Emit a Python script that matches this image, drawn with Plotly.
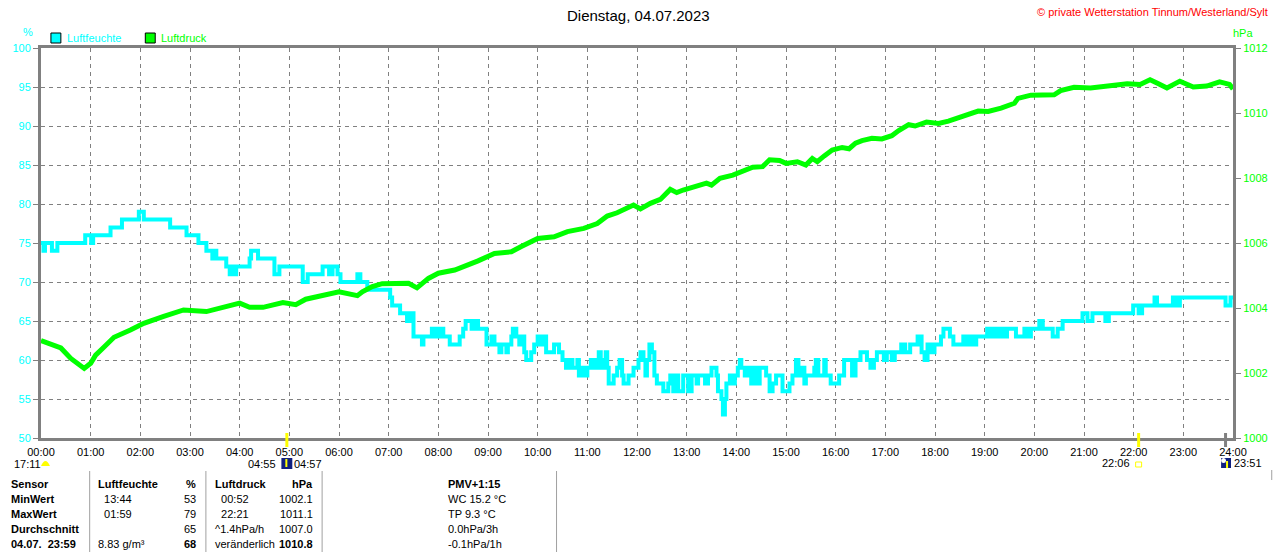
import plotly.graph_objects as go

# --- data (hours since midnight) ---
hum_t = [0.00, 0.05, 0.08, 0.22, 0.33, 0.89, 1.01, 1.05, 1.40, 1.63, 1.97, 2.07, 2.60, 2.93,
         3.17, 3.33, 3.45, 3.50, 3.53, 3.73, 3.80, 3.85, 3.88, 3.93, 4.20, 4.23, 4.37, 4.70,
         4.80, 5.27, 5.37, 5.67, 5.80, 5.87, 5.97, 6.03, 6.37, 6.43, 6.57, 7.03, 7.07, 7.23,
         7.37, 7.43, 7.50, 7.67, 7.70, 7.87, 7.90, 7.97, 8.00, 8.07, 8.10, 8.23, 8.43, 8.50,
         8.55, 8.67, 8.73, 8.80, 8.97, 9.07, 9.13, 9.23, 9.27, 9.37, 9.40, 9.47, 9.50, 9.57,
         9.63, 9.70, 9.73, 9.77, 9.87, 9.93, 10.00, 10.07, 10.13, 10.17, 10.33, 10.43, 10.50,
         10.57, 10.63, 10.70, 10.80, 10.83, 10.90, 10.93, 11.00, 11.07, 11.13, 11.20, 11.23,
         11.27, 11.33, 11.37, 11.40, 11.43, 11.53, 11.60, 11.65, 11.70, 11.73, 11.83, 11.93,
         12.03, 12.07, 12.13, 12.17, 12.20, 12.25, 12.30, 12.35, 12.40, 12.53, 12.63, 12.67,
         12.73, 12.80, 12.83, 12.93, 13.03, 13.10, 13.20, 13.23, 13.37, 13.43, 13.50, 13.60,
         13.63, 13.70, 13.73, 13.77, 13.80, 13.87, 13.90, 13.97, 14.03, 14.07, 14.10, 14.17,
         14.23, 14.30, 14.37, 14.43, 14.47, 14.60, 14.67, 14.73, 14.80, 14.93, 15.07, 15.13,
         15.20, 15.25, 15.30, 15.37, 15.40, 15.57, 15.60, 15.65, 15.77, 15.80, 15.90, 16.07,
         16.17, 16.33, 16.40, 16.50, 16.63, 16.70, 16.77, 16.83, 16.97, 17.03, 17.13, 17.19,
         17.32, 17.40, 17.50, 17.65, 17.73, 17.79, 17.85, 17.92, 17.99, 18.12, 18.17, 18.30,
         18.37, 18.57, 18.63, 18.70, 18.77, 18.83, 19.05, 19.12, 19.19, 19.25, 19.32, 19.39,
         19.45, 19.63, 19.80, 19.85, 19.93, 20.10, 20.17, 20.37, 20.47, 20.57, 20.97, 21.07,
         21.17, 21.43, 21.50, 21.99, 22.10, 22.17, 22.42, 22.47, 22.79, 22.87, 22.93, 23.20,
         23.85, 23.95, 24.00]
hum_v = [75, 74, 75, 74, 75, 76, 75, 76, 77, 78, 79, 78, 77, 76,
         75, 74, 73, 74, 73, 72, 71, 72, 71, 72, 73, 74, 73, 71,
         72, 70, 71, 72, 71, 72, 71, 70, 71, 70, 69, 68, 67, 66,
         65, 66, 63, 62, 63, 64, 63, 64, 63, 64, 63, 62, 63, 64,
         65, 64, 65, 64, 62, 63, 62, 61, 62, 61, 62, 63, 64, 63,
         62, 63, 61, 60, 61, 62, 63, 62, 63, 61, 62, 61, 60,
         59, 60, 59, 60, 58, 59, 58, 59, 60, 59, 60, 61,
         59, 60, 61, 59, 57, 58, 59, 60, 58, 57, 58, 59,
         60, 61, 60, 58, 60, 62, 61, 58, 57, 56, 57, 58,
         56, 58, 56, 58, 56, 58, 57, 58, 57, 58, 59, 58,
         56, 55, 53, 55, 57, 58, 57, 58, 59, 60, 59, 58,
         59, 57, 59, 57, 59, 58, 56, 57, 58, 56, 57, 58,
         60, 58, 59, 57, 58, 59, 60, 58, 60, 58, 57, 58,
         60, 58, 60, 61, 60, 59, 60, 61, 60, 61, 60, 61,
         62, 61, 62, 63, 61, 60, 62, 61, 62, 63, 64, 63,
         62, 63, 62, 63, 62, 63, 64, 63, 64, 63, 64, 63,
         64, 63, 64, 63, 64, 65, 64, 63, 64, 65, 66, 65,
         66, 65, 66, 67, 66, 67, 68, 67, 68, 67, 68, 68,
         67, 68, 68]

pres_t = [0.00, 0.20, 0.40, 0.60, 0.87, 1.00, 1.10, 1.27, 1.47, 1.80, 2.07, 2.47, 2.87, 3.33,
          3.80, 4.00, 4.20, 4.47, 4.87, 5.13, 5.33, 5.60, 6.00, 6.37, 6.47, 6.67, 6.87, 7.40,
          7.57, 7.80, 8.00, 8.33, 8.60, 8.80, 9.13, 9.47, 9.67, 10.00, 10.33, 10.60, 10.93,
          11.20, 11.40, 11.60, 11.93, 12.07, 12.27, 12.47, 12.67, 12.80, 12.93, 13.20, 13.40,
          13.50, 13.67, 13.93, 14.13, 14.33, 14.53, 14.67, 14.87, 15.00, 15.23, 15.40, 15.53,
          15.63, 15.77, 15.93, 16.13, 16.27, 16.40, 16.53, 16.73, 16.93, 17.13, 17.27, 17.47,
          17.60, 17.83, 18.07, 18.27, 18.47, 18.67, 18.87, 19.07, 19.33, 19.60, 19.67, 19.93,
          20.13, 20.40, 20.53, 20.80, 21.13, 21.47, 21.87, 22.13, 22.33, 22.50, 22.67, 22.93,
          23.20, 23.47, 23.73, 23.93, 24.00]
pres_v = [1003.0, 1002.9, 1002.77, 1002.45, 1002.14, 1002.3, 1002.55, 1002.8, 1003.1, 1003.32,
          1003.53, 1003.74, 1003.94, 1003.89, 1004.1, 1004.15, 1004.02, 1004.02, 1004.17, 1004.1,
          1004.27, 1004.35, 1004.5, 1004.38, 1004.5, 1004.66, 1004.75, 1004.76, 1004.62, 1004.91,
          1005.07, 1005.17, 1005.32, 1005.45, 1005.68, 1005.73, 1005.89, 1006.14, 1006.19,
          1006.35, 1006.45, 1006.6, 1006.83, 1006.93, 1007.17, 1007.05, 1007.22, 1007.34,
          1007.65, 1007.55, 1007.63, 1007.73, 1007.84, 1007.78, 1007.99, 1008.09, 1008.2,
          1008.33, 1008.35, 1008.56, 1008.54, 1008.45, 1008.5, 1008.4, 1008.6, 1008.5, 1008.68,
          1008.86, 1008.94, 1008.9, 1009.07, 1009.15, 1009.22, 1009.2, 1009.3, 1009.46, 1009.64,
          1009.6, 1009.72, 1009.68, 1009.75, 1009.85, 1009.98, 1010.06, 1010.05, 1010.15,
          1010.3, 1010.45, 1010.55, 1010.55, 1010.56, 1010.69, 1010.79, 1010.77, 1010.83,
          1010.9, 1010.88, 1011.02, 1010.9, 1010.77, 1010.98, 1010.8, 1010.83, 1010.96,
          1010.88, 1010.74]

hour_ticks = list(range(25))
hour_labels = [f"{h:02d}:00" for h in hour_ticks]
hum_ticks = list(range(50, 101, 5))
pres_ticks = list(range(1000, 1013, 2))

# sun / moon events (hours)
sunrise = 4 + 57 / 60
sunset = 22 + 6 / 60
moon_event = 23 + 51 / 60

table_rows = [
    ["Sensor", "Luftfeuchte", "%", "Luftdruck", "hPa", "PMV+1:15"],
    ["MinWert", "  13:44", "53", "  00:52", "1002.1", "WC 15.2 °C"],
    ["MaxWert", "  01:59", "79", "  22:21", "1011.1", "TP 9.3 °C"],
    ["Durchschnitt", "", "65", "^1.4hPa/h", "1007.0", "0.0hPa/3h"],
    ["04.07.  23:59", "8.83 g/m³", "68", "veränderlich", "1010.8", "-0.1hPa/1h"],
]

CYAN = "#00FFFF"
GREEN = "#00FF00"
GRAY = "#808080"
FONT = "Liberation Sans"

W, H = 1280, 552
L, R, T, B = 40, 1240, 48, 438


def px(x):
    return (x - L) / (R - L)


def py(y):
    return (B - y) / (B - T)


fig = go.Figure()
fig.add_trace(go.Scatter(x=hum_t, y=hum_v, mode="lines", line=dict(color=CYAN, width=4, shape="hv"),
                         name="Luftfeuchte", yaxis="y"))
fig.add_trace(go.Scatter(x=pres_t, y=pres_v, mode="lines", line=dict(color=GREEN, width=5),
                         name="Luftdruck", yaxis="y2"))

ann = []
shapes = []


def text(x, y, s, color="black", size=11, anchor="left", bold=False):
    ann.append(dict(x=px(x), y=py(y), xref="paper", yref="paper", text=f"<b>{s}</b>" if bold else s,
                    showarrow=False, xanchor=anchor, yanchor="middle",
                    font=dict(color=color, size=size, family=FONT)))


text(642, 15, "Dienstag, 04.07.2023", size=15, anchor="center")
text(1277, 12, "© private Wetterstation Tinnum/Westerland/Sylt", color="#FF0000", size=11, anchor="right")
text(27, 32, "%", color=CYAN, anchor="center")
text(1250, 33, "hPa", color=GREEN, anchor="center")
text(64, 38, "Luftfeuchte", color=CYAN)
text(159, 38, "Luftdruck", color=GREEN)
for x0, c in [(50, CYAN), (145, GREEN)]:
    shapes.append(dict(type="rect", xref="paper", yref="paper", x0=px(x0), x1=px(x0 + 10),
                       y0=py(43), y1=py(33), fillcolor=c, line=dict(color="black", width=1)))

# sun / moon marks
for t, c in [(sunrise, "#FFFF00"), (sunset, "#FFFF00"), (moon_event, GRAY)]:
    shapes.append(dict(type="line", xref="x", yref="paper", x0=t, x1=t, y0=py(447), y1=py(433),
                       line=dict(color=c, width=3)))
text(11, 464, "17:11")
shapes.append(dict(type="path", xref="paper", yref="paper",
                   path=f"M {px(40)} {py(466)} Q {px(44.5)} {py(456)} {px(49)} {py(466)} Z",
                   fillcolor="#FFFF00", line=dict(width=0)))
text(279, 464, "04:55", anchor="right")
text(293, 464, "04:57")
shapes.append(dict(type="rect", xref="paper", yref="paper", x0=px(282), x1=px(293), y0=py(469), y1=py(458),
                   fillcolor="#102080", line=dict(width=0)))
shapes.append(dict(type="line", xref="paper", yref="paper", x0=px(287), x1=px(287), y0=py(467), y1=py(459),
                   line=dict(color="#FFFF00", width=2)))
text(1138, 463, "22:06", anchor="right")
shapes.append(dict(type="rect", xref="paper", yref="paper", x0=px(1142), x1=px(1148), y0=py(467), y1=py(462),
                   line=dict(color="#FFFF00", width=1)))
shapes.append(dict(type="rect", xref="paper", yref="paper", x0=px(1228), x1=px(1238), y0=py(468), y1=py(458),
                   fillcolor="#102080", line=dict(width=0)))
shapes.append(dict(type="line", xref="paper", yref="paper", x0=px(1234), x1=px(1234), y0=py(468), y1=py(461),
                   line=dict(color="#FFFF00", width=2)))
shapes.append(dict(type="circle", xref="paper", yref="paper", x0=px(1228), x1=px(1233), y0=py(463), y1=py(458),
                   fillcolor="white", line=dict(width=0)))
text(1239, 463, "23:51")

# info table
col_x = [8, 95, 198, 213, 316, 448]
col_anchor = ["left", "left", "right", "left", "right", "left"]
row_y = [484, 499, 514, 529, 544]
for r, row in enumerate(table_rows):
    for c, s in enumerate(row):
        bold = r == 0 or c == 0 or (r == 4 and c in (2, 4))
        text(col_x[c], row_y[r], s, anchor=col_anchor[c], bold=bold)
for xs in [89, 206, 323, 559]:
    shapes.append(dict(type="line", xref="paper", yref="paper", x0=px(xs), x1=px(xs), y0=py(552), y1=py(471),
                       line=dict(color="#A0A0A0", width=1)))
shapes.append(dict(type="line", xref="paper", yref="paper", x0=px(1279), x1=px(1279), y0=py(480), y1=py(470),
                   line=dict(color="#A0A0A0", width=1)))

fig.update_layout(
    width=W, height=H,
    margin=dict(l=L, r=W - R, t=T, b=H - B),
    paper_bgcolor="white", plot_bgcolor="white",
    showlegend=False,
    xaxis=dict(range=[0, 24], tickvals=hour_ticks, ticktext=hour_labels, showgrid=True,
               gridcolor=GRAY, griddash="4px,4px", gridwidth=1, showline=True, mirror=True,
               linecolor=GRAY, linewidth=3, zeroline=False, ticks="",
               tickfont=dict(color="black", size=11, family=FONT), ticklabelstandoff=2),
    yaxis=dict(range=[50, 100], tickvals=hum_ticks, showgrid=True, gridcolor=GRAY,
               griddash="4px,4px", gridwidth=1, showline=True, linecolor=GRAY, linewidth=3,
               zeroline=False, ticks="outside", ticklen=5, tickcolor=GRAY,
               tickfont=dict(color=CYAN, size=11, family=FONT)),
    yaxis2=dict(range=[1000, 1012], tickvals=pres_ticks, overlaying="y", side="right",
                showgrid=False, showline=True, linecolor=GRAY, linewidth=3, zeroline=False,
                ticks="outside", ticklen=5, tickcolor=GRAY,
                tickfont=dict(color=GREEN, size=11, family=FONT)),
    annotations=ann,
    shapes=shapes,
)

fig.write_html("out.html", config={"displayModeBar": False},
               post_script="document.body.style.margin='0';document.body.style.overflow='hidden';")
